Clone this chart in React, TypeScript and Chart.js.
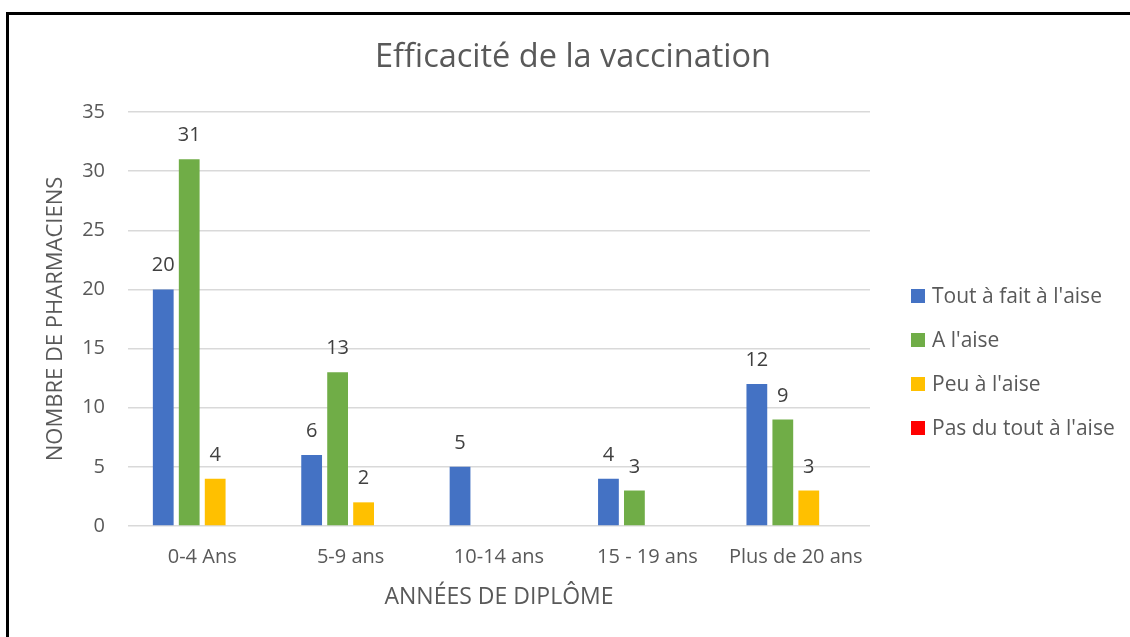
import React, { useEffect, useRef } from "react";
import { Chart, registerables } from "chart.js";

Chart.register(...registerables);

const FONT = "'Open Sans', Lato, sans-serif";

const chartTitle = "Efficacité de la vaccination";
const xAxisTitle = "ANNÉES DE DIPLÔME";
const yAxisTitle = "NOMBRE DE PHARMACIENS";
const categories = ["0-4 Ans", "5-9 ans", "10-14 ans", "15 - 19 ans", "Plus de 20 ans"];
const seriesNames = ["Tout à fait à l'aise", "A l'aise", "Peu à l'aise", "Pas du tout à l'aise"];
const seriesColors = ["#4472C4", "#70AD47", "#FFC000", "#FF0000"];
const toutAFaitALaise: (number | null)[] = [20, 6, 5, 4, 12];
const aLaise: (number | null)[] = [31, 13, null, 3, 9];
const peuALaise: (number | null)[] = [4, 2, null, null, 3];
const pasDuToutALaise: (number | null)[] = [null, null, null, null, null];
const yMin = 0;
const yMax = 35;
const yStep = 5;

const TICK_SIZE = 20;
const LEGEND_SIZE = 21;
const TITLE_SIZE = 32.5;

const valueLabels = {
  id: "valueLabels",
  afterDatasetsDraw(chart: any) {
    const ctx = chart.ctx;
    ctx.save();
    ctx.font = `${TICK_SIZE}px ${FONT}`;
    ctx.fillStyle = "#404040";
    ctx.textAlign = "center";
    ctx.textBaseline = "alphabetic";
    chart.data.datasets.forEach((ds: any, i: number) => {
      const meta = chart.getDatasetMeta(i);
      meta.data.forEach((el: any, j: number) => {
        const v = ds.data[j];
        if (v == null) return;
        ctx.fillText(String(v), el.x, el.y - 18);
      });
    });
    ctx.restore();
  },
};

const titleAndLegend = {
  id: "titleAndLegend",
  afterDraw(chart: any) {
    const { ctx, chartArea } = chart;
    ctx.save();
    ctx.font = `${TITLE_SIZE}px ${FONT}`;
    ctx.fillStyle = "#595959";
    ctx.textAlign = "center";
    ctx.textBaseline = "middle";
    ctx.fillText(chartTitle, 573, 58);

    const x = chartArea.right + 41;
    let y = chartArea.top + 184;
    ctx.font = `${LEGEND_SIZE}px ${FONT}`;
    ctx.textAlign = "left";
    chart.data.datasets.forEach((ds: any) => {
      ctx.fillStyle = ds.backgroundColor;
      ctx.fillRect(x, y - 7, 14, 14);
      ctx.fillStyle = "#595959";
      ctx.fillText(ds.label, x + 21, y + 1);
      y += 44;
    });
    ctx.restore();
  },
};

export default function App() {
  const ref = useRef<HTMLCanvasElement | null>(null);

  useEffect(() => {
    if (!ref.current) return;
    const data = [toutAFaitALaise, aLaise, peuALaise, pasDuToutALaise];
    const chart = new Chart(ref.current, {
      type: "bar",
      data: {
        labels: categories,
        datasets: data.map((d, i) => ({
          label: seriesNames[i],
          data: d,
          backgroundColor: seriesColors[i],
          borderWidth: 0,
          categoryPercentage: 0.7,
          barPercentage: 0.8,
        })),
      },
      options: {
        responsive: false,
        animation: false,
        layout: { padding: { left: 0, right: 260, top: 112, bottom: 0 } },
        plugins: {
          legend: { display: false },
          tooltip: { enabled: false },
          title: { display: false },
        },
        scales: {
          x: {
            grid: { display: false, drawTicks: false },
            border: { display: false },
            ticks: { color: "#595959", font: { family: FONT, size: TICK_SIZE }, padding: 19, maxRotation: 0 },
            title: {
              display: true,
              text: xAxisTitle,
              color: "#595959",
              font: { family: FONT, size: 23 },
              padding: { top: 0, bottom: 26 },
            },
            afterFit(scale: any) {
              scale.height = 111;
            },
          },
          y: {
            min: yMin,
            max: yMax,
            grid: { color: "#D9D9D9", lineWidth: 1.5, drawTicks: false },
            border: { display: false },
            ticks: { stepSize: yStep, color: "#595959", font: { family: FONT, size: TICK_SIZE }, padding: 23 },
            title: {
              display: true,
              text: yAxisTitle,
              color: "#595959",
              font: { family: FONT, size: 22 },
              padding: { top: 43, bottom: 0 },
            },
            afterFit(scale: any) {
              scale.width = 128;
            },
          },
        },
      },
      plugins: [valueLabels, titleAndLegend],
    });
    return () => chart.destroy();
  }, []);

  return (
    <div style={{ position: "fixed", left: 0, top: 0, width: 1130, height: 637, background: "#fff", overflow: "hidden" }}>
      <canvas ref={ref} width={1130} height={637} style={{ position: "absolute", left: 0, top: 0 }} />
      <div
        style={{
          position: "absolute",
          left: 6,
          top: 12,
          width: 1140,
          height: 650,
          borderTop: "3px solid #000",
          borderLeft: "3px solid #000",
          pointerEvents: "none",
        }}
      />
    </div>
  );
}
